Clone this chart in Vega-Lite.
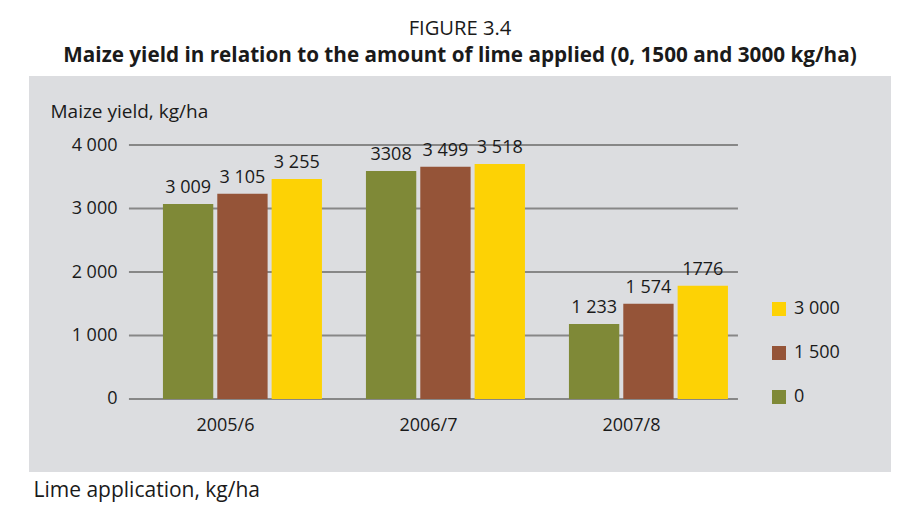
{
  "$schema": "https://vega.github.io/schema/vega-lite/v6.json",
  "width": 862,
  "height": 396,
  "autosize": {"type": "none"},
  "padding": {"left": 29, "top": 76, "right": 8, "bottom": 44},
  "background": "white",
  "config": {
    "font": "Open Sans",
    "view": {"fill": "#dcdde0", "stroke": null}
  },
  "title": {
    "text": "FIGURE 3.4",
    "subtitle": "Maize yield in relation to the amount of lime applied (0, 1500 and 3000 kg/ha)",
    "anchor": "middle",
    "fontSize": 20.2,
    "fontWeight": "normal",
    "color": "#1a1a1a",
    "subtitleFontSize": 20.7,
    "subtitleFontWeight": "bold",
    "subtitleColor": "#1a1a1a",
    "subtitlePadding": 7,
    "offset": 10
  },
  "datasets": {
    "bars": [
      {"year": "2005/6", "lime": "0", "yield": 3071, "label": "3 009"},
      {"year": "2005/6", "lime": "1 500", "yield": 3233, "label": "3 105"},
      {"year": "2005/6", "lime": "3 000", "yield": 3465, "label": "3 255"},
      {"year": "2006/7", "lime": "0", "yield": 3591, "label": "3308"},
      {"year": "2006/7", "lime": "1 500", "yield": 3658, "label": "3 499"},
      {"year": "2006/7", "lime": "3 000", "yield": 3701, "label": "3 518"},
      {"year": "2007/8", "lime": "0", "yield": 1181, "label": "1 233"},
      {"year": "2007/8", "lime": "1 500", "yield": 1501, "label": "1 574"},
      {"year": "2007/8", "lime": "3 000", "yield": 1784, "label": "1776"}
    ],
    "grid": [{"value": 0}, {"value": 1000}, {"value": 2000}, {"value": 3000}, {"value": 4000}]
  },
  "layer": [
    {
      "data": {"name": "grid"},
      "mark": {"type": "rule", "color": "#878787", "strokeWidth": 2},
      "encoding": {
        "y": {
          "field": "value",
          "type": "quantitative",
          "scale": {"domain": [-1150, 5087], "nice": false, "zero": false},
          "axis": {
            "zindex": 1,
            "values": [0, 1000, 2000, 3000, 4000],
            "labelExpr": "replace(format(datum.value, ','), ',', ' ')",
            "domain": false,
            "ticks": false,
            "grid": false,
            "labelPadding": -88,
            "labelFontSize": 18,
            "labelColor": "#1a1a1a",
            "title": "Maize yield, kg/ha",
            "titleAngle": 0,
            "titleAlign": "left",
            "titleBaseline": "alphabetic",
            "titleX": 21,
            "titleY": 41,
            "titleFontSize": 19,
            "titleFontWeight": "normal",
            "titleColor": "#1a1a1a"
          }
        },
        "x": {"datum": "2005/6", "type": "nominal", "bandPosition": -0.2138,
          "scale": {"type": "band", "domain": ["2005/6", "2006/7", "2007/8"], "paddingInner": 0.2167, "paddingOuter": 0.7315, "align": 0.451},
          "axis": {
            "zindex": 1,
            "domain": false,
            "ticks": false,
            "grid": false,
            "labelAngle": 0,
            "labelPadding": -42,
            "labelBaseline": "alphabetic",
            "labelOffset": -17,
            "labelFontSize": 18,
            "labelColor": "#1a1a1a",
            "title": "Lime application, kg/ha",
            "titleAlign": "left",
            "titleBaseline": "alphabetic",
            "titleX": 4,
            "titleY": 24,
            "titleFontSize": 21,
            "titleFontWeight": "normal",
            "titleColor": "#1a1a1a"
          }
        },
        "x2": {"datum": "2007/8", "bandPosition": 1.0629}
      }
    },
    {
      "data": {"name": "bars"},
      "mark": {"type": "bar"},
      "encoding": {
        "x": {"field": "year", "type": "nominal", "title": "Lime application, kg/ha"},
        "xOffset": {"field": "lime", "type": "nominal", "scale": {"domain": ["0", "1 500", "3 000"], "paddingInner": 0.074, "paddingOuter": 0}},
        "y": {"field": "yield", "type": "quantitative", "title": "Maize yield, kg/ha"},
        "color": {
          "field": "lime",
          "type": "nominal",
          "scale": {"domain": ["0", "1 500", "3 000"], "range": ["#7f8937", "#955438", "#fdd205"]},
          "legend": {
            "orient": "none",
            "legendX": 741,
            "legendY": 224,
            "title": null,
            "values": ["3 000", "1 500", "0"],
            "symbolType": "square",
            "symbolSize": 196,
            "symbolStrokeWidth": 0,
            "labelFontSize": 18,
            "labelOffset": 6,
            "labelColor": "#1a1a1a",
            "rowPadding": 26,
            "padding": 0
          }
        }
      }
    },
    {
      "data": {"name": "bars"},
      "mark": {"type": "text", "baseline": "alphabetic", "dy": -11, "fontSize": 18, "color": "#1a1a1a"},
      "encoding": {
        "x": {"field": "year", "type": "nominal", "title": "Lime application, kg/ha"},
        "xOffset": {"field": "lime", "type": "nominal"},
        "y": {"field": "yield", "type": "quantitative", "title": "Maize yield, kg/ha"},
        "text": {"field": "label"}
      }
    }
  ]
}
